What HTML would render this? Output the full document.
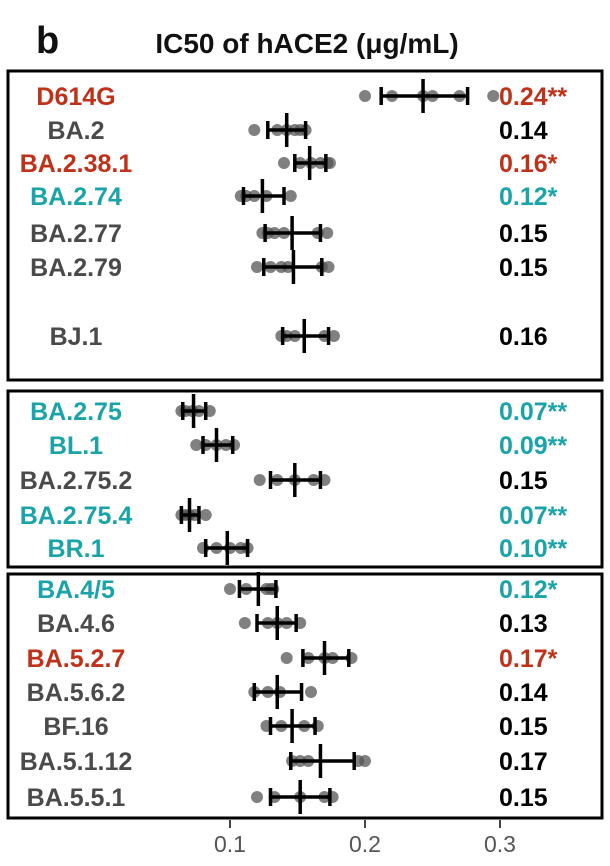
<!DOCTYPE html>
<html><head><meta charset="utf-8"><style>
body{margin:0;background:#fff;width:610px;height:866px;overflow:hidden}
svg{display:block}
text{font-family:"Liberation Sans",sans-serif;font-weight:bold}
</style></head><body>
<svg width="610" height="866" viewBox="0 0 610 866">
<text x="36" y="53" font-size="38" fill="#111">b</text>
<text x="307" y="53" font-size="28" text-anchor="middle" fill="#111">IC50 of hACE2 (μg/mL)</text>
<g fill="none" stroke="#000" stroke-width="3">
<rect x="8" y="71" width="594" height="309"/>
<rect x="8" y="391" width="594" height="176"/>
<rect x="8" y="574" width="594" height="244"/>
</g>
<g stroke="#444" stroke-width="2">
<line x1="230" y1="820" x2="230" y2="828"/><line x1="365" y1="820" x2="365" y2="828"/><line x1="500" y1="820" x2="500" y2="828"/>
</g>
<g font-size="23" fill="#555" text-anchor="middle">
<text x="230" y="852" style="font-weight:normal">0.1</text><text x="365" y="852" style="font-weight:normal">0.2</text><text x="500" y="852" style="font-weight:normal">0.3</text>
</g>
<g id="rows"></g>
</svg>
<script>
const X=v=>230+(v-0.1)*1350;
const R="#c0311a",C="#1aa3a8",G="#4a4a4a",K="#000";
const rows=[
["D614G",96,R,"0.24**",R,.243,.212,.276,[.2,.22,.243,.25,.27,.295]],
["BA.2",130,G,"0.14",K,.142,.128,.156,[.118,.135,.142,.148,.152,.156]],
["BA.2.38.1",163,R,"0.16*",R,.159,.148,.171,[.14,.152,.16,.167,.172,.174]],
["BA.2.74",196,C,"0.12*",C,.124,.110,.140,[.108,.112,.118,.127,.145]],
["BA.2.77",233,G,"0.15",K,.146,.126,.167,[.124,.128,.133,.14,.165,.172]],
["BA.2.79",267,G,"0.15",K,.147,.125,.168,[.12,.13,.138,.143,.168,.173]],
["BJ.1",336,G,"0.16",K,.155,.139,.173,[.138,.142,.148,.17,.177]],
["BA.2.75",411,C,"0.07**",C,.073,.065,.082,[.064,.067,.072,.077,.085]],
["BL.1",445,C,"0.09**",C,.09,.08,.102,[.075,.082,.09,.097,.103]],
["BA.2.75.2",480,G,"0.15",K,.148,.13,.167,[.122,.135,.148,.162,.17]],
["BA.2.75.4",515,C,"0.07**",C,.07,.064,.077,[.064,.067,.07,.074,.082]],
["BR.1",548,C,"0.10**",C,.098,.082,.113,[.08,.09,.1,.108,.113]],
["BA.4/5",589,C,"0.12*",C,.121,.107,.134,[.1,.112,.127,.13,.132]],
["BA.4.6",623,G,"0.13",K,.135,.12,.149,[.111,.128,.135,.142,.152]],
["BA.5.2.7",658,R,"0.17*",R,.17,.154,.188,[.142,.158,.17,.176,.19]],
["BA.5.6.2",692,G,"0.14",K,.135,.118,.153,[.118,.128,.137,.16]],
["BF.16",726,G,"0.15",K,.146,.13,.163,[.127,.138,.155,.165]],
["BA.5.1.12",761,G,"0.17",K,.167,.145,.192,[.146,.152,.158,.195,.2]],
["BA.5.5.1",797,G,"0.15",K,.152,.13,.174,[.12,.133,.152,.17,.176]]];
let s="";
for(const [n,y,nc,v,vc,m,lo,hi,d] of rows){
 s+=`<text x="76" y="${y+9}" font-size="25" fill="${nc}" text-anchor="middle">${n}</text>`;
 s+=`<text x="499" y="${y+9}" font-size="25" fill="${vc}">${v}</text>`;
 for(const p of d) s+=`<circle cx="${X(p)}" cy="${y}" r="6" fill="#555" fill-opacity="0.75"/>`;
 s+=`<g stroke="#000" stroke-width="3.5"><line x1="${X(lo)}" y1="${y}" x2="${X(hi)}" y2="${y}"/><line x1="${X(lo)}" y1="${y-9}" x2="${X(lo)}" y2="${y+9}"/><line x1="${X(hi)}" y1="${y-9}" x2="${X(hi)}" y2="${y+9}"/><line x1="${X(m)}" y1="${y-17}" x2="${X(m)}" y2="${y+17}"/></g>`;
}
document.getElementById("rows").innerHTML=s;
</script>
</body></html>
